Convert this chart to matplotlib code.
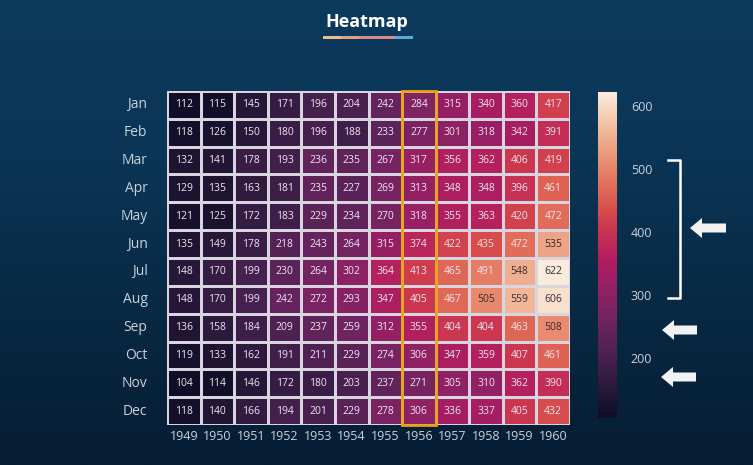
import numpy as np
import pandas as pd
import seaborn as sns
import matplotlib.pyplot as plt
from matplotlib.patches import Rectangle, FancyArrow
from matplotlib.colors import LinearSegmentedColormap, ListedColormap, to_rgb

# Monthly passengers, 1949-1960
months = ['Jan', 'Feb', 'Mar', 'Apr', 'May', 'Jun',
          'Jul', 'Aug', 'Sep', 'Oct', 'Nov', 'Dec']
years = [1949, 1950, 1951, 1952, 1953, 1954,
         1955, 1956, 1957, 1958, 1959, 1960]

y1949 = [112, 118, 132, 129, 121, 135, 148, 148, 136, 119, 104, 118]
y1950 = [115, 126, 141, 135, 125, 149, 170, 170, 158, 133, 114, 140]
y1951 = [145, 150, 178, 163, 172, 178, 199, 199, 184, 162, 146, 166]
y1952 = [171, 180, 193, 181, 183, 218, 230, 242, 209, 191, 172, 194]
y1953 = [196, 196, 236, 235, 229, 243, 264, 272, 237, 211, 180, 201]
y1954 = [204, 188, 235, 227, 234, 264, 302, 293, 259, 229, 203, 229]
y1955 = [242, 233, 267, 269, 270, 315, 364, 347, 312, 274, 237, 278]
y1956 = [284, 277, 317, 313, 318, 374, 413, 405, 355, 306, 271, 306]
y1957 = [315, 301, 356, 348, 355, 422, 465, 467, 404, 347, 305, 336]
y1958 = [340, 318, 362, 348, 363, 435, 491, 505, 404, 359, 310, 337]
y1959 = [360, 342, 406, 396, 420, 472, 548, 559, 463, 407, 362, 405]
y1960 = [417, 391, 419, 461, 472, 535, 622, 606, 508, 461, 390, 432]

cbarTicks = [200, 300, 400, 500, 600]
highlightYear = 1956

columns = [y1949, y1950, y1951, y1952, y1953, y1954,
           y1955, y1956, y1957, y1958, y1959, y1960]
flights = pd.DataFrame(np.array(columns).T, index=months, columns=years)

plt.rcParams['font.family'] = ['Open Sans', 'DejaVu Sans']

# Rocket, nudged toward purple in the middle and lifted at the dark end
t = np.linspace(0, 1, 256)
rocket = np.array(sns.color_palette('rocket', 256))
tint = np.array(to_rgb('#7a3a9a'))
lift = np.array(to_rgb('#3a2a55'))
w = (0.18 * np.sin(np.pi * t) ** 1.5)[:, None]
wl = (0.22 * (1 - t) ** 2)[:, None]
mixed = rocket * (1 - w) + tint * w
mixed = mixed * (1 - wl) + lift * wl
heatCmap = ListedColormap(mixed)

W, H = 753, 465
fig = plt.figure(figsize=(W / 100, H / 100), dpi=100)

# Background gradient
bg = fig.add_axes([0, 0, 1, 1])
bgCmap = LinearSegmentedColormap.from_list('bg', ['#0c3a5d', '#0b3556', '#082943', '#061d33'])
grad = np.linspace(0, 1, 256).reshape(-1, 1)
bg.imshow(grad, aspect='auto', cmap=bgCmap, extent=[0, W, H, 0])
bg.set_xlim(0, W)
bg.set_ylim(H, 0)
bg.axis('off')

# Title with coloured underline
bg.text(367, 22, 'Heatmap', color='white', fontsize=13, fontweight='bold',
        ha='center', va='center')
lineColors = ['#e7c08a', '#e6a07e', '#d98a8a', '#d98a8a', '#5aa9d6']
segW = 90 / len(lineColors)
for i, c in enumerate(lineColors):
    bg.add_patch(Rectangle((323 + i * segW, 36.5), segW, 3, color=c, lw=0))

# Heatmap
ax = fig.add_axes([167 / W, 1 - 425 / H, (570 - 167) / W, (425 - 91) / H])
cax = fig.add_axes([598 / W, 1 - 418 / H, 19 / W, (418 - 92) / H])
sns.heatmap(flights, ax=ax, cbar_ax=cax, cmap=heatCmap, annot=True, fmt='d',
            linewidths=1.0, linecolor='#d8d4e0',
            annot_kws={'fontsize': 7.5})

# Dark labels on the brightest cells
for txt in ax.texts:
    txt.set_color('#3a2a30' if int(txt.get_text()) > 500 else '#eee6ee')

ax.tick_params(length=0, colors='#c9d3dc', labelsize=9)
ax.tick_params(axis='y', pad=14)
ax.set_yticklabels(months, rotation=0, fontsize=10)
ax.set_xticklabels(years, rotation=0)
ax.set_xlabel('')
ax.set_ylabel('')

# Highlight column
col = years.index(highlightYear)
ax.add_patch(Rectangle((col, 0), 1, len(months), fill=False,
                       edgecolor='#e8a21a', lw=2, clip_on=False))

cax.set_yticks(cbarTicks)
cax.tick_params(length=0, colors='#c9d3dc', labelsize=9, pad=10)
for s in cax.spines.values():
    s.set_visible(False)

# Bracket and arrows
bg.plot([668, 680, 680, 668], [160, 160, 298, 298], color='white', lw=1.8)
arrowSpecs = [(726, 228, 36), (697, 330, 35), (696, 377, 35)]
for x0, y0, ln in arrowSpecs:
    bg.add_patch(FancyArrow(x0, y0, -ln, 0, width=9, head_width=20,
                            head_length=12, length_includes_head=True,
                            color='#f2f2f2', lw=0))

fig.savefig('out.png', dpi=100, facecolor=fig.get_facecolor())
